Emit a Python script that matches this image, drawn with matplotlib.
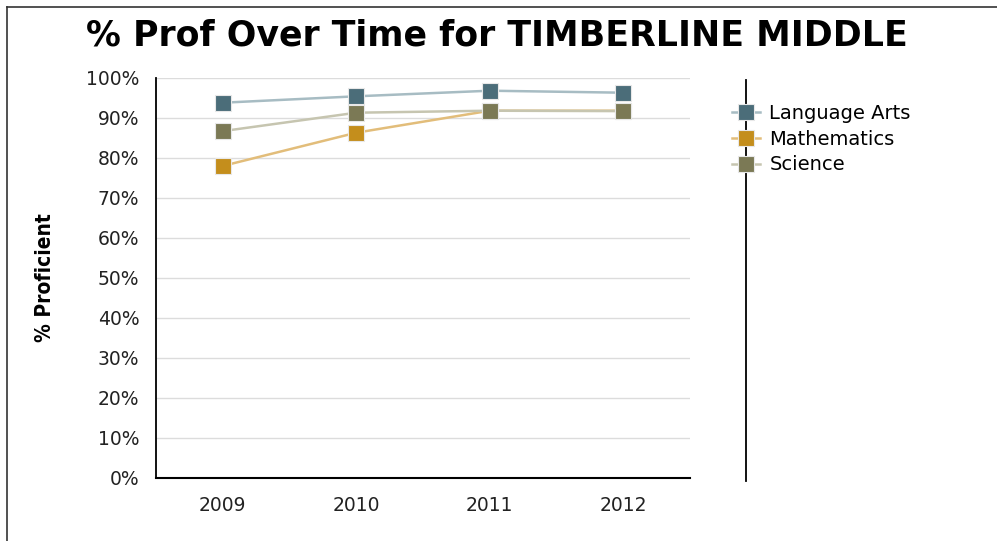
import matplotlib.pyplot as plt
from matplotlib.lines import Line2D

# % proficient by year
years = ['2009', '2010', '2011', '2012']
language_arts = [93.8, 95.4, 96.8, 96.3]
mathematics = [78.0, 86.3, 91.8, 91.8]
science = [86.7, 91.3, 91.8, 91.7]

series = [
    ('Language Arts', language_arts, '#4b6d79', '#a7bcc3'),
    ('Mathematics', mathematics, '#c48e1c', '#e2bd7a'),
    ('Science', science, '#7b7955', '#c6c5b0'),
]

fig = plt.figure(figsize=(9.97, 5.41), dpi=100)
ax = fig.add_axes([0.1565, 0.1165, 0.5355, 0.7395])

x = range(len(years))
for name, vals, mcol, lcol in series:
    ax.plot(x, vals, color=lcol, lw=1.8, zorder=2)
    ax.plot(x, vals, ls='none', marker='s', ms=12, mfc=mcol,
            mec='#e8e8e8', mew=0.8, zorder=3)

ax.set_xlim(-0.5, 3.5)
ax.set_ylim(0, 100)
ax.set_xticks(list(x))
ax.set_xticklabels(years)
ax.set_yticks(range(0, 101, 10))
ax.set_yticklabels([f'{v}%' for v in range(0, 101, 10)])
ax.tick_params(axis='both', length=0, labelsize=13.5, colors='#222222')
ax.tick_params(axis='x', pad=13)
ax.tick_params(axis='y', pad=12)
ax.yaxis.grid(True, color='#dcdcdc', lw=1)
ax.set_axisbelow(True)
for s in ['top', 'right']:
    ax.spines[s].set_visible(False)
ax.spines['left'].set_linewidth(1.3)
ax.spines['bottom'].set_linewidth(1.5)

ax.set_ylabel('% Proficient', family='DejaVu Sans', fontstretch='condensed',
              fontweight='bold', fontsize=15, labelpad=22)

fig.text(0.498, 0.934, '% Prof Over Time for TIMBERLINE MIDDLE',
         ha='center', va='center', fontsize=25, fontweight='bold')

# legend with the divider line running through the markers
handles = [Line2D([], [], color=lcol, lw=1.8, marker='s', ms=12,
                  mfc=mcol, mec='#e8e8e8', mew=0.8)
           for name, vals, mcol, lcol in series]
fig.legend(handles, [s[0] for s in series], loc='upper left',
           bbox_to_anchor=(0.7347, 0.808), frameon=False, fontsize=14,
           handlelength=1.4, handletextpad=0.5, labelspacing=0.35,
           borderaxespad=0, borderpad=0)
fig.add_artist(Line2D([0.748, 0.748], [0.11, 0.852], color='black', lw=1.3))

# outer frame
fig.add_artist(Line2D([0.007, 0.007], [0.0, 0.987], color='#333333', lw=1.2))
fig.add_artist(Line2D([0.007, 1.0], [0.987, 0.987], color='#333333', lw=1.2))

fig.savefig('out.png', dpi=100)
